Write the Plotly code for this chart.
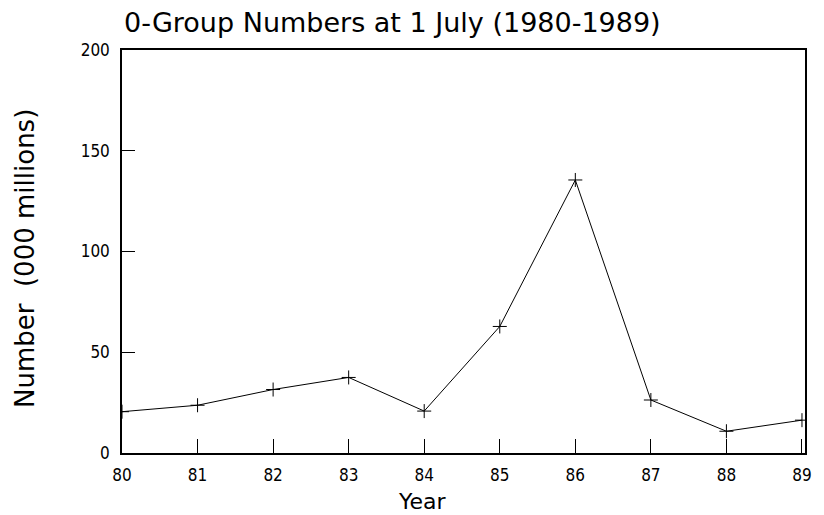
import plotly.graph_objects as go

years = [80, 81, 82, 83, 84, 85, 86, 87, 88, 89]
numbers = [20.5, 23.7, 31.5, 37.5, 20.8, 62.8, 135.5, 26.3, 10.8, 16.3]
x_tick_labels = ["80", "81", "82", "83", "84", "85", "86", "87", "88", "89"]
y_ticks = [0, 50, 100, 150, 200]

# page body adds an 8px offset; margins compensate
L, R, T, B = 114, 27, 42, 70
PW, PH = 824 - L - R, 515 - T - B
OX, OY = 8 + L, 8 + T  # screen position of plot origin (top-left)


def px(xs):
    return (xs - OX) / PW


def py(ys):
    return (OY + PH - ys) / PH


fig = go.Figure()
fig.add_trace(go.Scatter(
    x=years, y=numbers, mode="lines+markers",
    line=dict(color="black", width=1),
    marker=dict(symbol="cross-thin", size=10, line=dict(color="black", width=1)),
    showlegend=False,
))

fig.update_layout(
    width=824, height=515,
    paper_bgcolor="white", plot_bgcolor="white",
    margin=dict(l=L, r=R, t=T, b=B, autoexpand=False),
    font=dict(family="DejaVu Sans", color="black"),
    annotations=[
        dict(text="0-Group Numbers at 1 July (1980-1989)", xref="paper", yref="paper",
             x=px(122), y=py(22), xanchor="left", yanchor="middle", showarrow=False,
             font=dict(family="DejaVu Sans", size=27, color="black")),
        dict(text="Year", xref="paper", yref="paper",
             x=px(422), y=py(501), xanchor="center", yanchor="middle", showarrow=False,
             font=dict(family="DejaVu Sans", size=22, color="black")),
        dict(text="Number  (000 millions)", xref="paper", yref="paper", textangle=-90,
             x=px(25), y=py(259), xanchor="center", yanchor="middle", showarrow=False,
             font=dict(family="DejaVu Sans", size=26, color="black")),
    ],
)
fig.update_xaxes(
    range=[80, 89.04], tickvals=years, ticktext=x_tick_labels,
    ticks="inside", ticklen=14, tickcolor="black", tickwidth=1,
    showline=True, linecolor="black", linewidth=1.5, mirror=True,
    showgrid=False, zeroline=False, ticklabelstandoff=6,
    tickfont=dict(family="DejaVu Sans Condensed", size=17),
)
fig.update_yaxes(
    range=[0, 200], tickvals=y_ticks,
    ticks="inside", ticklen=13, tickcolor="black", tickwidth=1,
    showline=True, linecolor="black", linewidth=1.5, mirror=True,
    showgrid=False, zeroline=False, ticklabelstandoff=7,
    tickfont=dict(family="DejaVu Sans Condensed", size=17),
)

fig.write_html("out.html")
